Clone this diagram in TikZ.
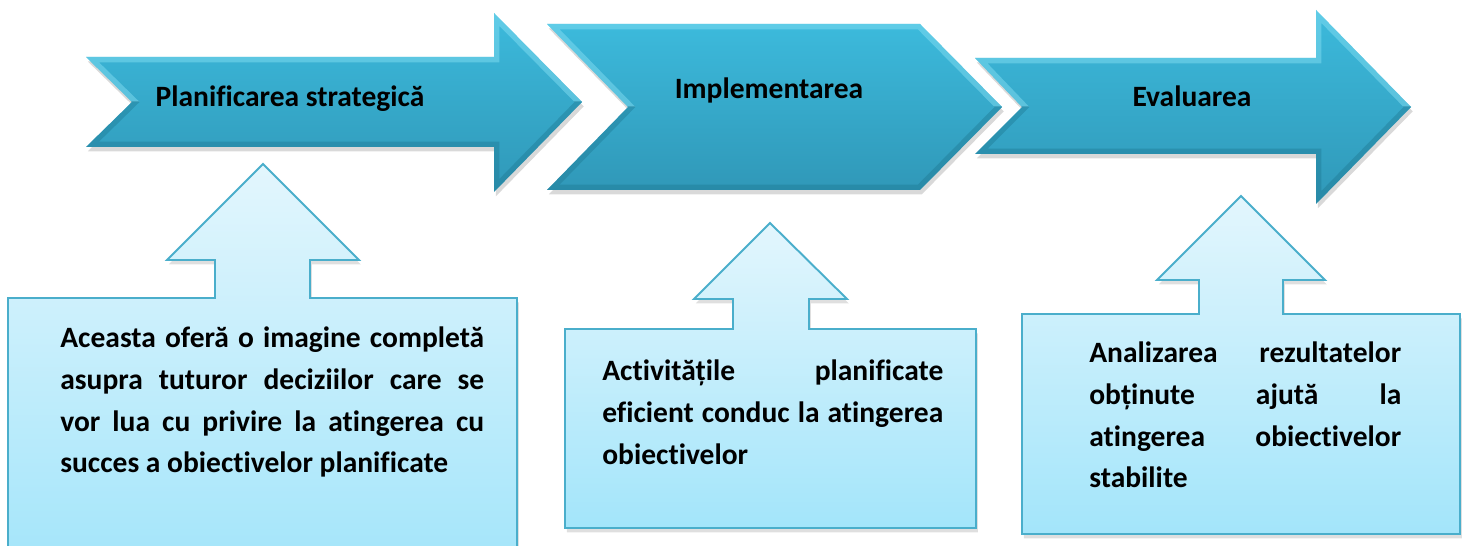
\documentclass[tikz,border=0pt]{standalone}
\usepackage{fontspec}
\setmainfont{Carlito}[Ligatures=CommonOff]
\usetikzlibrary{positioning,shadows}
\definecolor{arrowtop}{HTML}{3CBADC}
\definecolor{arrowbot}{HTML}{3098B8}
\definecolor{rimlight}{HTML}{8BE2F5}
\definecolor{rimdark}{HTML}{1D7690}
\definecolor{calltop}{HTML}{E3F6FD}
\definecolor{callbot}{HTML}{A3E5FA}
\definecolor{calledge}{HTML}{4AAECB}

% stage arrow with a light upper and a dark lower bevel; #2 = y of its axis
\newcommand{\stagearrow}[2]{%
  \path[bigarrow] #1;
  \begin{scope}
    \clip #1;
    \begin{scope}
      \clip (0,0) rectangle (1465,#2);
      \draw[line width=6pt, rimlight, opacity=0.45] #1;
    \end{scope}
    \begin{scope}
      \clip (0,#2) rectangle (1465,546);
      \draw[line width=6pt, rimdark, opacity=0.4] #1;
    \end{scope}
  \end{scope}}

\begin{document}
\begin{tikzpicture}[x=0.02cm, y=-0.02cm,
  bigarrow/.style={top color=arrowtop, bottom color=arrowbot, drop shadow={opacity=0.3, shadow xshift=1pt, shadow yshift=-2.5pt}},
  callout/.style={top color=calltop, bottom color=callbot, draw=calledge, line width=1.1pt, drop shadow={opacity=0.25, shadow xshift=1pt, shadow yshift=-2.5pt}},
  steptitle/.style={font=\bfseries\fontsize{16.8}{20}\selectfont, inner sep=0pt, anchor=base},
  steptext/.style={font=\bfseries\fontsize{16.8}{23.65}\selectfont, align=justify, inner sep=0pt, anchor=base west}]
\useasboundingbox (0,0) rectangle (1465,546);

% the three stages
\stagearrow{(86,57) -- (494,57) -- (494,13) -- (582,102) -- (494,192) -- (494,147) -- (86,147) -- (132,102) -- cycle}{102}
\stagearrow{(547,24) -- (920,24) -- (1002,107) -- (920,190) -- (547,190) -- (628,107) -- cycle}{107}
\stagearrow{(975,58) -- (1316,58) -- (1316,10) -- (1411,107) -- (1316,204) -- (1316,154) -- (975,154) -- (1022,107) -- cycle}{107}
\node[steptitle] (plan) at (290,107) {Planificarea strategică};
\node[steptitle] (impl) at (769,99) {Implementarea};
\node[steptitle] (eval) at (1192,107) {Evaluarea};

% callouts below
\path[callout] (8,298) -- (215,298) -- (215,260) -- (167,260) -- (263,164) -- (359,260) -- (310,260) -- (310,298) -- (517,298) -- (517,570) -- (8,570) -- cycle;
\path[callout] (565,329) -- (733,329) -- (733,299) -- (694,299) -- (770,223) -- (847,299) -- (809,299) -- (809,329) -- (976,329) -- (976,528) -- (565,528) -- cycle;
\path[callout] (1022,314) -- (1199,314) -- (1199,280) -- (1157,280) -- (1241,196) -- (1325,280) -- (1283,280) -- (1283,314) -- (1460,314) -- (1460,534) -- (1022,534) -- cycle;

\node[steptext, text width=8.48cm] (plantext) at (60,348) {Aceasta oferă o imagine completă\linebreak asupra tuturor deciziilor care se\linebreak vor lua cu privire la atingerea cu\linebreak succes a obiectivelor planificate};
\node[steptext, text width=6.82cm] (impltext) at (602,381) {Activitățile planificate\linebreak eficient conduc la atingerea\linebreak obiectivelor};
\node[steptext, text width=6.24cm] (evaltext) at (1089,363) {Analizarea rezultatelor\linebreak obținute ajută la\linebreak atingerea obiectivelor\linebreak stabilite};
\end{tikzpicture}
\end{document}
